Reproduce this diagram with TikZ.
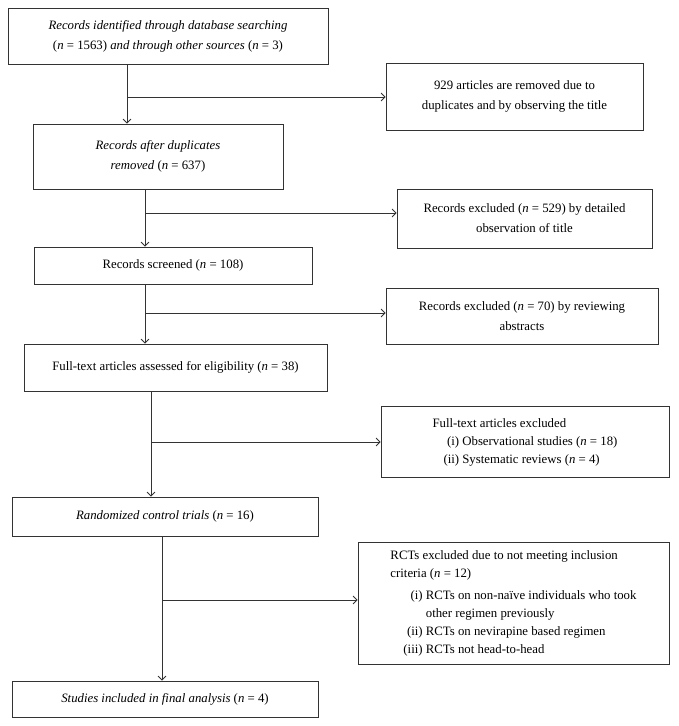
\documentclass[tikz,border=0pt]{standalone}
\usepackage{fontspec}
\setmainfont{Liberation Serif}
\usetikzlibrary{arrows.meta}
\begin{document}
\begin{tikzpicture}[x=1pt,y=-1pt,
  box/.style={draw=black!80, line width=0.8pt, rectangle, inner sep=0pt, align=center, font=\fontsize{12.8}{20}\selectfont},
  conn/.style={draw=black!80, line width=0.8pt},
  arr/.style={conn, -{Straight Barb[length=4pt,width=8pt]}}]
\useasboundingbox[fill=white] (0,0) rectangle (678,726);
% main column
\node[box, minimum width=320pt, minimum height=56pt] (b1) at (168,36)
  {\textit{Records identified through database searching}\\(\textit{n} = 1563) \textit{and through other sources} (\textit{n} = 3)};
\node[box, minimum width=250pt, minimum height=65pt] (b3) at (158,156.5)
  {\textit{Records after duplicates}\\\textit{removed} (\textit{n} = 637)};
\node[box, minimum width=278pt, minimum height=37pt] (b5) at (173,265.5)
  {Records screened (\textit{n} = 108)};
\node[box, minimum width=303pt, minimum height=47pt] (b7) at (175.5,367.5)
  {Full-text articles assessed for eligibility (\textit{n} = 38)};
\node[box, minimum width=306pt, minimum height=39pt] (b9) at (165,516.5)
  {\textit{Randomized control trials} (\textit{n} = 16)};
\node[box, minimum width=306pt, minimum height=36pt] (b11) at (165,699)
  {\textit{Studies included in final analysis} (\textit{n} = 4)};
% side boxes
\node[box, minimum width=257pt, minimum height=67pt] (b2) at (514.5,96.5)
  {929 articles are removed due to\\duplicates and by observing the title};
\node[box, minimum width=255pt, minimum height=59pt] (b4) at (524.5,218.5)
  {Records excluded (\textit{n} = 529) by detailed\\observation of title};
\node[box, minimum width=272pt, minimum height=56pt] (b6) at (522,316)
  {Records excluded (\textit{n} = 70) by reviewing\\abstracts};
\node[box, minimum width=288pt, minimum height=71pt, font=\fontsize{12.8}{18}\selectfont] (b8) at (525,441.5)
  {\begin{tabular}{@{\hspace{11pt}}r@{ }l@{}}
   \multicolumn{2}{@{}l@{}}{Full-text articles excluded}\\
   (i) & Observational studies (\textit{n} = 18)\\
   (ii) & Systematic reviews (\textit{n} = 4)
   \end{tabular}};
\node[box, minimum width=311pt, minimum height=122pt, font=\fontsize{12.8}{18}\selectfont] (b10) at (513.5,603)
  {\begin{tabular}{@{\hspace{13pt}}r@{ }l@{}}
   \multicolumn{2}{@{}l@{}}{RCTs excluded due to not meeting inclusion}\\
   \multicolumn{2}{@{}l@{}}{criteria (\textit{n} = 12)}\\[4pt]
   (i) & RCTs on non-naïve individuals who took\\
       & other regimen previously\\
   (ii) & RCTs on nevirapine based regimen\\
   (iii) & RCTs not head-to-head
   \end{tabular}};
% connectors
\coordinate (s1) at (127,0 |- b1.south);
\coordinate (j1) at (127,97);
\draw[arr] (s1) -- (s1 |- b3.north);
\draw[arr] (j1) -- (j1 -| b2.west);
\coordinate (s2) at (145,0 |- b3.south);
\coordinate (j2) at (145,213);
\draw[arr] (s2) -- (s2 |- b5.north);
\draw[arr] (j2) -- (j2 -| b4.west);
\coordinate (s3) at (145,0 |- b5.south);
\coordinate (j3) at (145,313);
\draw[arr] (s3) -- (s3 |- b7.north);
\draw[arr] (j3) -- (j3 -| b6.west);
\coordinate (s4) at (151,0 |- b7.south);
\coordinate (j4) at (151,442);
\draw[arr] (s4) -- (s4 |- b9.north);
\draw[arr] (j4) -- (j4 -| b8.west);
\coordinate (s5) at (162,0 |- b9.south);
\coordinate (j5) at (162,600);
\draw[arr] (s5) -- (s5 |- b11.north);
\draw[arr] (j5) -- (j5 -| b10.west);
\end{tikzpicture}
\end{document}
